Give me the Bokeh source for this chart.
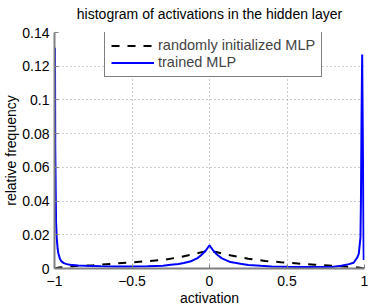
from bokeh.plotting import figure
from bokeh.models import FixedTicker, Range1d, Legend, LegendItem, Title
from bokeh.embed import file_html
from bokeh.resources import INLINE

title_text = "histogram of activations in the hidden layer"
x_label = "activation"
y_label = "relative frequency"

x_ticks = [-1, -0.5, 0, 0.5, 1]
x_tick_labels = ["\u22121", "\u22120.5", "0", "0.5", "1"]
y_ticks = [0, 0.02, 0.04, 0.06, 0.08, 0.1, 0.12, 0.14]
y_tick_labels = ["0", "0.02", "0.04", "0.06", "0.08", "0.1", "0.12", "0.14"]

random_name = "randomly initialized MLP"
random_x = [-1.0, -0.97, -0.93, -0.88, -0.82, -0.75, -0.63, -0.52, -0.41, -0.3,
            -0.2, -0.1, -0.05, 0.0, 0.05, 0.14, 0.25, 0.36, 0.46, 0.57,
            0.68, 0.79, 0.9, 0.96, 1.0]
random_y = [0.0, 0.0006, 0.001, 0.0014, 0.0017, 0.002, 0.0028, 0.0035, 0.0043, 0.0051,
            0.0066, 0.0086, 0.0097, 0.0104, 0.0096, 0.0077, 0.0058, 0.0045, 0.0037, 0.003,
            0.0022, 0.0016, 0.001, 0.0006, 0.0]

trained_name = "trained MLP"
trained_x = [-0.997, -0.995, -0.990, -0.986, -0.980, -0.975, -0.965, -0.955, -0.94, -0.92,
             -0.9, -0.85, -0.8, -0.7, -0.6, -0.5, -0.4, -0.3, -0.25, -0.2,
             -0.166, -0.12, -0.08, -0.056, -0.025, 0.0, 0.025, 0.05, 0.08, 0.135,
             0.2, 0.25, 0.33, 0.4, 0.5, 0.6, 0.7, 0.8, 0.85, 0.9,
             0.93, 0.953, 0.963, 0.974, 0.977, 0.981, 0.985, 0.995]
trained_y = [0.131, 0.07, 0.028, 0.0186, 0.012, 0.0089, 0.0058, 0.0042, 0.0032, 0.0026,
             0.0022, 0.0018, 0.0016, 0.0013, 0.0012, 0.0012, 0.0013, 0.0017, 0.0022, 0.0027,
             0.0033, 0.0043, 0.006, 0.0077, 0.0105, 0.0138, 0.0105, 0.0082, 0.006, 0.0038,
             0.0028, 0.0021, 0.0016, 0.0012, 0.001, 0.0009, 0.0009, 0.0011, 0.0016, 0.0026,
             0.0034, 0.0065, 0.0087, 0.0185, 0.04, 0.09, 0.127, 0.005]

FONT = "Liberation Sans"

p = figure(frame_width=310, frame_height=236,
           x_range=Range1d(-1, 1), y_range=Range1d(0, 0.14),
           output_backend="svg", toolbar_location=None,
           min_border_left=46, min_border_right=6,
           min_border_top=32, min_border_bottom=36,
           title=title_text)

p.title.text_font = FONT
p.title.text_font_size = "14px"
p.title.text_font_style = "normal"
p.title.align = "center"
p.title.standoff = 6
p.title.text_color = "black"

# thin blank spacer between the title and the plot frame
spacer = Title(text=" ", text_font_size="5px", standoff=0)
p.add_layout(spacer, "above")

p.outline_line_color = None
p.background_fill_color = "white"
p.border_fill_color = "white"

for ax, ticks, labels, lab in ((p.xaxis[0], x_ticks, x_tick_labels, x_label),
                               (p.yaxis[0], y_ticks, y_tick_labels, y_label)):
    ax.ticker = FixedTicker(ticks=ticks)
    ax.major_label_overrides = {t: l for t, l in zip(ticks, labels)}
    ax.axis_label = lab
    ax.axis_label_text_font = FONT
    ax.axis_label_text_font_size = "14px"
    ax.axis_label_text_font_style = "normal"
    ax.axis_label_text_color = "black"
    ax.major_label_text_font = FONT
    ax.major_label_text_font_size = "14px"
    ax.major_label_text_color = "black"
    ax.axis_line_color = "#808080"
    ax.axis_line_width = 2
    ax.major_tick_line_color = "#808080"
    ax.major_tick_in = 4
    ax.major_tick_out = 0
    ax.minor_tick_line_color = None
    ax.axis_label_standoff = 0

p.xaxis[0].major_label_standoff = 7
p.xaxis[0].axis_label_standoff = 1
p.yaxis[0].major_label_standoff = 5

p.xgrid.ticker = FixedTicker(ticks=x_ticks)
p.ygrid.ticker = FixedTicker(ticks=y_ticks)
for g in (p.xgrid[0], p.ygrid[0]):
    g.grid_line_color = "#999999"
    g.grid_line_dash = "1 3"
    g.grid_line_width = 1

r1 = p.line(random_x, random_y, line_color="black", line_width=2, line_dash="8 8")
r2 = p.line(trained_x, trained_y, line_color="#0000ff", line_width=2)

legend = Legend(items=[LegendItem(label=random_name, renderers=[r1]),
                       LegendItem(label=trained_name, renderers=[r2])],
                location=(50, 191))
legend.border_line_color = "black"
legend.border_line_width = 1
legend.background_fill_color = "white"
legend.background_fill_alpha = 1
legend.label_text_font = FONT
legend.label_text_font_size = "14.5px"
legend.glyph_width = 43
legend.glyph_height = 15
legend.label_height = 15
legend.label_standoff = 4
legend.padding = 6
legend.spacing = 1
legend.margin = 0
p.add_layout(legend)

open("out.html", "w").write(file_html(p, INLINE))
